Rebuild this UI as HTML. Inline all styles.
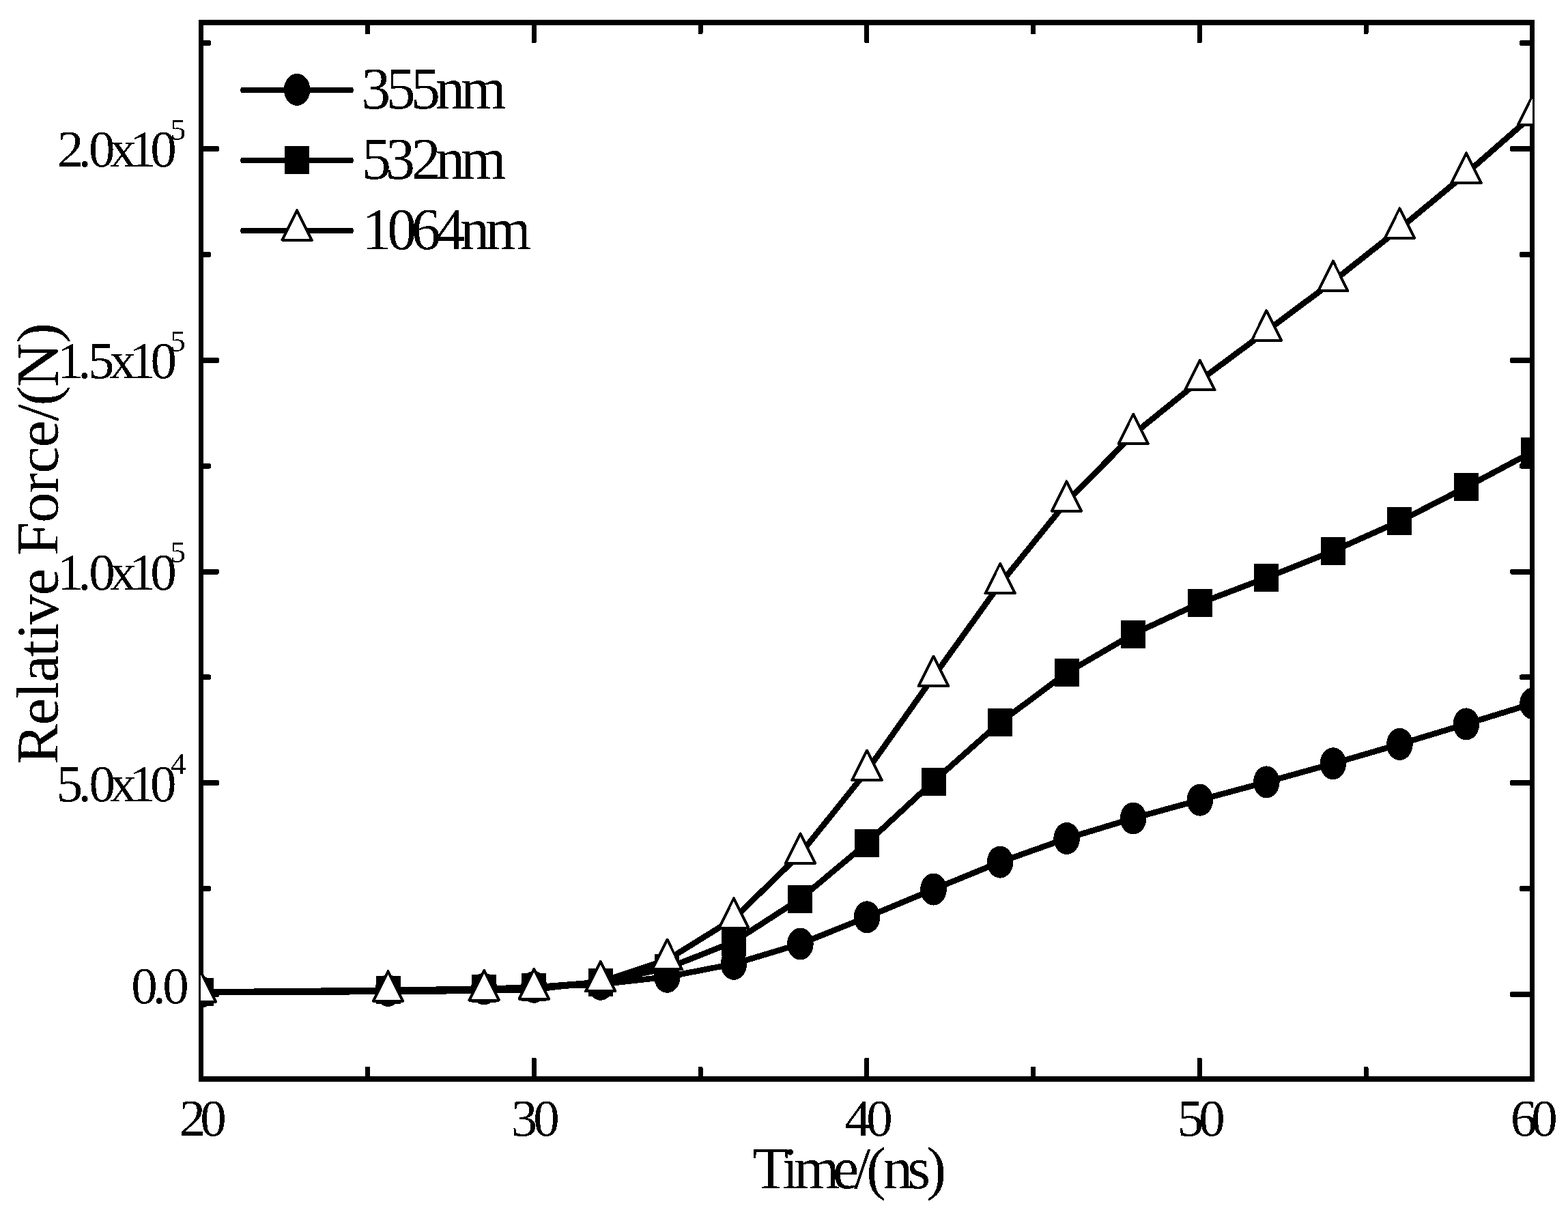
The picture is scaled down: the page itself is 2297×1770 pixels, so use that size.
<!DOCTYPE html>
<html lang="en"><head><meta charset="utf-8"><title>Relative Force/(N) vs Time/(ns)</title>
<style>html,body{margin:0;padding:0;background:#fff;}body{width:2297px;height:1770px;overflow:hidden;}svg{display:block;}text{font-family:"Liberation Serif","DejaVu Serif",serif;fill:#000;white-space:pre;}</style></head><body>
<svg width="2297" height="1770" viewBox="0 0 2297 1770">
<rect x="0" y="0" width="2297" height="1770" fill="#fff"/>
<defs><clipPath id="plotclip"><rect x="294" y="33" width="1951" height="1548"/></clipPath><filter id="bitonal" filterUnits="userSpaceOnUse" x="0" y="0" width="2297" height="1770" color-interpolation-filters="sRGB"><feComponentTransfer><feFuncA type="discrete" tableValues="0 1"/></feComponentTransfer></filter></defs>
<g id="frame" fill="#000" shape-rendering="crispEdges">
<rect x="291" y="29" width="1957" height="8"/>
<rect x="291" y="1577" width="1957" height="8"/>
<rect x="291" y="29" width="7" height="1556"/>
<rect x="2241" y="29" width="7" height="1556"/>
</g>
<g id="ticks" fill="#000" shape-rendering="crispEdges">
<rect x="293.0" y="1453.0" width="28.0" height="8" rx="2.2" ry="3.6"/>
<rect x="2212.0" y="1453.0" width="34.0" height="8" rx="2.2" ry="3.6"/>
<rect x="293.0" y="1143.2" width="28.0" height="8" rx="2.2" ry="3.6"/>
<rect x="2212.0" y="1143.2" width="34.0" height="8" rx="2.2" ry="3.6"/>
<rect x="293.0" y="833.5" width="28.0" height="8" rx="2.2" ry="3.6"/>
<rect x="2212.0" y="833.5" width="34.0" height="8" rx="2.2" ry="3.6"/>
<rect x="293.0" y="523.8" width="28.0" height="8" rx="2.2" ry="3.6"/>
<rect x="2212.0" y="523.8" width="34.0" height="8" rx="2.2" ry="3.6"/>
<rect x="293.0" y="214.0" width="28.0" height="8" rx="2.2" ry="3.6"/>
<rect x="2212.0" y="214.0" width="34.0" height="8" rx="2.2" ry="3.6"/>
<rect x="293.0" y="1298.1" width="16.0" height="8" rx="2.2" ry="3.6"/>
<rect x="2226.0" y="1298.1" width="20.0" height="8" rx="2.2" ry="3.6"/>
<rect x="293.0" y="988.4" width="16.0" height="8" rx="2.2" ry="3.6"/>
<rect x="2226.0" y="988.4" width="20.0" height="8" rx="2.2" ry="3.6"/>
<rect x="293.0" y="678.6" width="16.0" height="8" rx="2.2" ry="3.6"/>
<rect x="2226.0" y="678.6" width="20.0" height="8" rx="2.2" ry="3.6"/>
<rect x="293.0" y="368.9" width="16.0" height="8" rx="2.2" ry="3.6"/>
<rect x="2226.0" y="368.9" width="20.0" height="8" rx="2.2" ry="3.6"/>
<rect x="293.0" y="59.1" width="16.0" height="8" rx="2.2" ry="3.6"/>
<rect x="2226.0" y="59.1" width="20.0" height="8" rx="2.2" ry="3.6"/>
<rect x="778.75" y="1550.0" width="7" height="33.0" rx="1.6" ry="1.6"/>
<rect x="778.75" y="31.0" width="7" height="32.0" rx="1.6" ry="1.6"/>
<rect x="1266.25" y="1550.0" width="7" height="33.0" rx="1.6" ry="1.6"/>
<rect x="1266.25" y="31.0" width="7" height="32.0" rx="1.6" ry="1.6"/>
<rect x="1753.75" y="1550.0" width="7" height="33.0" rx="1.6" ry="1.6"/>
<rect x="1753.75" y="31.0" width="7" height="32.0" rx="1.6" ry="1.6"/>
<rect x="535.00" y="1563.0" width="7" height="20.0" rx="1.6" ry="1.6"/>
<rect x="535.00" y="31.0" width="7" height="19.0" rx="1.6" ry="1.6"/>
<rect x="1022.50" y="1563.0" width="7" height="20.0" rx="1.6" ry="1.6"/>
<rect x="1022.50" y="31.0" width="7" height="19.0" rx="1.6" ry="1.6"/>
<rect x="1510.00" y="1563.0" width="7" height="20.0" rx="1.6" ry="1.6"/>
<rect x="1510.00" y="31.0" width="7" height="19.0" rx="1.6" ry="1.6"/>
<rect x="1997.50" y="1563.0" width="7" height="20.0" rx="1.6" ry="1.6"/>
<rect x="1997.50" y="31.0" width="7" height="19.0" rx="1.6" ry="1.6"/>
</g>
<g id="series" clip-path="url(#plotclip)" shape-rendering="crispEdges">
<g id="s355">
<polyline points="294.5,1453.5 568.6,1451.4 709.1,1449.0 782.2,1446.3 879.8,1442.3 977.4,1431.3 1074.9,1412.4 1172.4,1383.0 1270.0,1343.8 1367.5,1303.1 1465.1,1263.1 1562.6,1228.5 1660.2,1199.0 1757.8,1172.1 1855.3,1145.9 1952.8,1118.8 2050.4,1090.4 2147.9,1060.9 2245.5,1030.8" fill="none" stroke="#000" stroke-width="8.6" stroke-linejoin="round" stroke-linecap="round"/>
<ellipse cx="294.5" cy="1453.5" rx="19.3" ry="23.5" fill="#000"/>
<ellipse cx="568.6" cy="1451.4" rx="19.3" ry="23.5" fill="#000"/>
<ellipse cx="709.1" cy="1449.0" rx="19.3" ry="23.5" fill="#000"/>
<ellipse cx="782.2" cy="1446.3" rx="19.3" ry="23.5" fill="#000"/>
<ellipse cx="879.8" cy="1442.3" rx="19.3" ry="23.5" fill="#000"/>
<ellipse cx="977.4" cy="1431.3" rx="19.3" ry="23.5" fill="#000"/>
<ellipse cx="1074.9" cy="1412.4" rx="19.3" ry="23.5" fill="#000"/>
<ellipse cx="1172.4" cy="1383.0" rx="19.3" ry="23.5" fill="#000"/>
<ellipse cx="1270.0" cy="1343.8" rx="19.3" ry="23.5" fill="#000"/>
<ellipse cx="1367.5" cy="1303.1" rx="19.3" ry="23.5" fill="#000"/>
<ellipse cx="1465.1" cy="1263.1" rx="19.3" ry="23.5" fill="#000"/>
<ellipse cx="1562.6" cy="1228.5" rx="19.3" ry="23.5" fill="#000"/>
<ellipse cx="1660.2" cy="1199.0" rx="19.3" ry="23.5" fill="#000"/>
<ellipse cx="1757.8" cy="1172.1" rx="19.3" ry="23.5" fill="#000"/>
<ellipse cx="1855.3" cy="1145.9" rx="19.3" ry="23.5" fill="#000"/>
<ellipse cx="1952.8" cy="1118.8" rx="19.3" ry="23.5" fill="#000"/>
<ellipse cx="2050.4" cy="1090.4" rx="19.3" ry="23.5" fill="#000"/>
<ellipse cx="2147.9" cy="1060.9" rx="19.3" ry="23.5" fill="#000"/>
<ellipse cx="2245.5" cy="1030.8" rx="19.3" ry="23.5" fill="#000"/>
</g>
<g id="s532">
<polyline points="294.5,1453.6 568.6,1450.8 709.1,1448.8 782.2,1446.6 879.8,1439.0 977.4,1418.6 1074.9,1380.0 1172.4,1317.0 1270.0,1235.3 1367.5,1145.0 1465.1,1058.5 1562.6,985.9 1660.2,929.0 1757.8,883.6 1855.3,846.6 1952.8,807.4 2050.4,763.8 2147.9,713.8 2245.5,661.8" fill="none" stroke="#000" stroke-width="8.6" stroke-linejoin="round" stroke-linecap="round"/>
<rect x="276.5" y="1433.1" width="36" height="41" fill="#000"/>
<rect x="550.6" y="1430.3" width="36" height="41" fill="#000"/>
<rect x="691.1" y="1428.3" width="36" height="41" fill="#000"/>
<rect x="764.2" y="1426.1" width="36" height="41" fill="#000"/>
<rect x="861.8" y="1418.5" width="36" height="41" fill="#000"/>
<rect x="959.4" y="1398.1" width="36" height="41" fill="#000"/>
<rect x="1056.9" y="1359.5" width="36" height="41" fill="#000"/>
<rect x="1154.4" y="1296.5" width="36" height="41" fill="#000"/>
<rect x="1252.0" y="1214.8" width="36" height="41" fill="#000"/>
<rect x="1349.5" y="1124.5" width="36" height="41" fill="#000"/>
<rect x="1447.1" y="1038.0" width="36" height="41" fill="#000"/>
<rect x="1544.6" y="965.4" width="36" height="41" fill="#000"/>
<rect x="1642.2" y="908.5" width="36" height="41" fill="#000"/>
<rect x="1739.8" y="863.1" width="36" height="41" fill="#000"/>
<rect x="1837.3" y="826.1" width="36" height="41" fill="#000"/>
<rect x="1934.8" y="786.9" width="36" height="41" fill="#000"/>
<rect x="2032.4" y="743.3" width="36" height="41" fill="#000"/>
<rect x="2129.9" y="693.3" width="36" height="41" fill="#000"/>
<rect x="2227.5" y="641.3" width="36" height="41" fill="#000"/>
</g>
<g id="s1064">
<polyline points="294.5,1454.0 568.6,1453.0 709.1,1451.7 782.2,1449.8 879.8,1438.5 977.4,1406.5 1074.9,1346.0 1172.4,1251.2 1270.0,1129.4 1367.5,991.5 1465.1,855.6 1562.6,735.1 1660.2,636.4 1757.8,557.4 1855.3,485.1 1952.8,412.3 2050.4,335.0 2147.9,254.2 2245.5,168.8" fill="none" stroke="#000" stroke-width="8.6" stroke-linejoin="round" stroke-linecap="round"/>
<path d="M294.5 1424.2 L316.2 1467.8 L272.8 1467.8 Z" fill="#fff" stroke="#000" stroke-width="4" stroke-linejoin="round"/>
<path d="M568.6 1423.2 L590.3 1466.8 L546.9 1466.8 Z" fill="#fff" stroke="#000" stroke-width="4" stroke-linejoin="round"/>
<path d="M709.1 1421.9 L730.8 1465.5 L687.4 1465.5 Z" fill="#fff" stroke="#000" stroke-width="4" stroke-linejoin="round"/>
<path d="M782.2 1420.0 L804.0 1463.6 L760.5 1463.6 Z" fill="#fff" stroke="#000" stroke-width="4" stroke-linejoin="round"/>
<path d="M879.8 1408.7 L901.5 1452.3 L858.1 1452.3 Z" fill="#fff" stroke="#000" stroke-width="4" stroke-linejoin="round"/>
<path d="M977.4 1376.7 L999.1 1420.3 L955.6 1420.3 Z" fill="#fff" stroke="#000" stroke-width="4" stroke-linejoin="round"/>
<path d="M1074.9 1316.2 L1096.6 1359.8 L1053.2 1359.8 Z" fill="#fff" stroke="#000" stroke-width="4" stroke-linejoin="round"/>
<path d="M1172.4 1221.4 L1194.1 1265.0 L1150.7 1265.0 Z" fill="#fff" stroke="#000" stroke-width="4" stroke-linejoin="round"/>
<path d="M1270.0 1099.6 L1291.7 1143.2 L1248.3 1143.2 Z" fill="#fff" stroke="#000" stroke-width="4" stroke-linejoin="round"/>
<path d="M1367.5 961.7 L1389.2 1005.3 L1345.8 1005.3 Z" fill="#fff" stroke="#000" stroke-width="4" stroke-linejoin="round"/>
<path d="M1465.1 825.8 L1486.8 869.4 L1443.4 869.4 Z" fill="#fff" stroke="#000" stroke-width="4" stroke-linejoin="round"/>
<path d="M1562.6 705.3 L1584.3 748.9 L1540.9 748.9 Z" fill="#fff" stroke="#000" stroke-width="4" stroke-linejoin="round"/>
<path d="M1660.2 606.6 L1681.9 650.2 L1638.5 650.2 Z" fill="#fff" stroke="#000" stroke-width="4" stroke-linejoin="round"/>
<path d="M1757.8 527.6 L1779.5 571.2 L1736.0 571.2 Z" fill="#fff" stroke="#000" stroke-width="4" stroke-linejoin="round"/>
<path d="M1855.3 455.3 L1877.0 498.9 L1833.6 498.9 Z" fill="#fff" stroke="#000" stroke-width="4" stroke-linejoin="round"/>
<path d="M1952.8 382.5 L1974.5 426.1 L1931.1 426.1 Z" fill="#fff" stroke="#000" stroke-width="4" stroke-linejoin="round"/>
<path d="M2050.4 305.2 L2072.1 348.8 L2028.7 348.8 Z" fill="#fff" stroke="#000" stroke-width="4" stroke-linejoin="round"/>
<path d="M2147.9 224.4 L2169.6 268.0 L2126.2 268.0 Z" fill="#fff" stroke="#000" stroke-width="4" stroke-linejoin="round"/>
<path d="M2245.5 139.0 L2267.2 182.6 L2223.8 182.6 Z" fill="#fff" stroke="#000" stroke-width="4" stroke-linejoin="round"/>
</g>
</g>
<g id="legend" shape-rendering="crispEdges">
<rect x="352" y="128.0" width="166" height="8" rx="3" ry="4" fill="#000"/>
<ellipse cx="435.1" cy="131.4" rx="19.3" ry="23.5" fill="#000"/>
<rect x="352" y="231.0" width="166" height="8" rx="3" ry="4" fill="#000"/>
<rect x="417.1" y="214.0" width="36" height="41" fill="#000"/>
<rect x="352" y="334.0" width="166" height="8" rx="3" ry="4" fill="#000"/>
<path d="M435.1 308.2 L456.8 351.8 L413.4 351.8 Z" fill="#fff" stroke="#000" stroke-width="4" stroke-linejoin="round"/>
</g>
<g id="labels" filter="url(#bitonal)">
<text x="529.17 565.73 601.88 638.03 674.77" y="159.00" font-size="86.00">355nm</text>
<text x="529.88 565.02 602.73 638.03 674.77" y="262.00" font-size="86.00">532nm</text>
<text x="530.40 567.20 602.38 638.23 674.03 710.97" y="365.00" font-size="86.00">1064nm</text>
<text x="192.15 223.47 238.30" y="1469.50" font-size="77.00">0.0</text>
<text font-size="77"><tspan x="82.82 114.38 130.45 161.18 189.48 220.10" y="1173.55">5.0x10</tspan><tspan x="250.11" y="1134.05" font-size="45">4</tspan></text>
<text font-size="77"><tspan x="83.73 114.33 130.25 160.93 189.58 220.20" y="863.80">1.0x10</tspan><tspan x="249.52" y="824.30" font-size="45">5</tspan></text>
<text font-size="77"><tspan x="83.73 114.33 129.07 160.48 189.53 220.45" y="554.05">1.5x10</tspan><tspan x="249.27" y="514.55" font-size="45">5</tspan></text>
<text font-size="77"><tspan x="84.08 114.42 130.05 160.93 189.68 220.15" y="244.30">2.0x10</tspan><tspan x="249.72" y="204.80" font-size="45">5</tspan></text>
<text x="262.38 293.25" y="1664.00" font-size="77.00">20</text>
<text x="748.81 781.35" y="1664.00" font-size="77.00">30</text>
<text x="1237.55 1269.30" y="1664.00" font-size="77.00">40</text>
<text x="1724.67 1756.30" y="1664.00" font-size="77.00">50</text>
<text x="2212.79 2243.20" y="1664.00" font-size="77.00">60</text>
<text x="1102.55 1145.89 1162.99 1219.94 1251.20 1269.22 1293.63 1329.47 1357.43" y="1740.70" font-size="86.00">Time/(ns)</text>
<text transform="translate(84.5 1120.0) rotate(-90) scale(1.020 1)" x="0.09 56.37 94.34 117.93 154.41 178.96 200.82 242.65 242.65 299.86 347.14 389.81 418.01 455.30 493.26 515.08 541.80 605.18" y="0" font-size="87.70">Relative Force/(N)</text>
</g>
</svg></body></html>
